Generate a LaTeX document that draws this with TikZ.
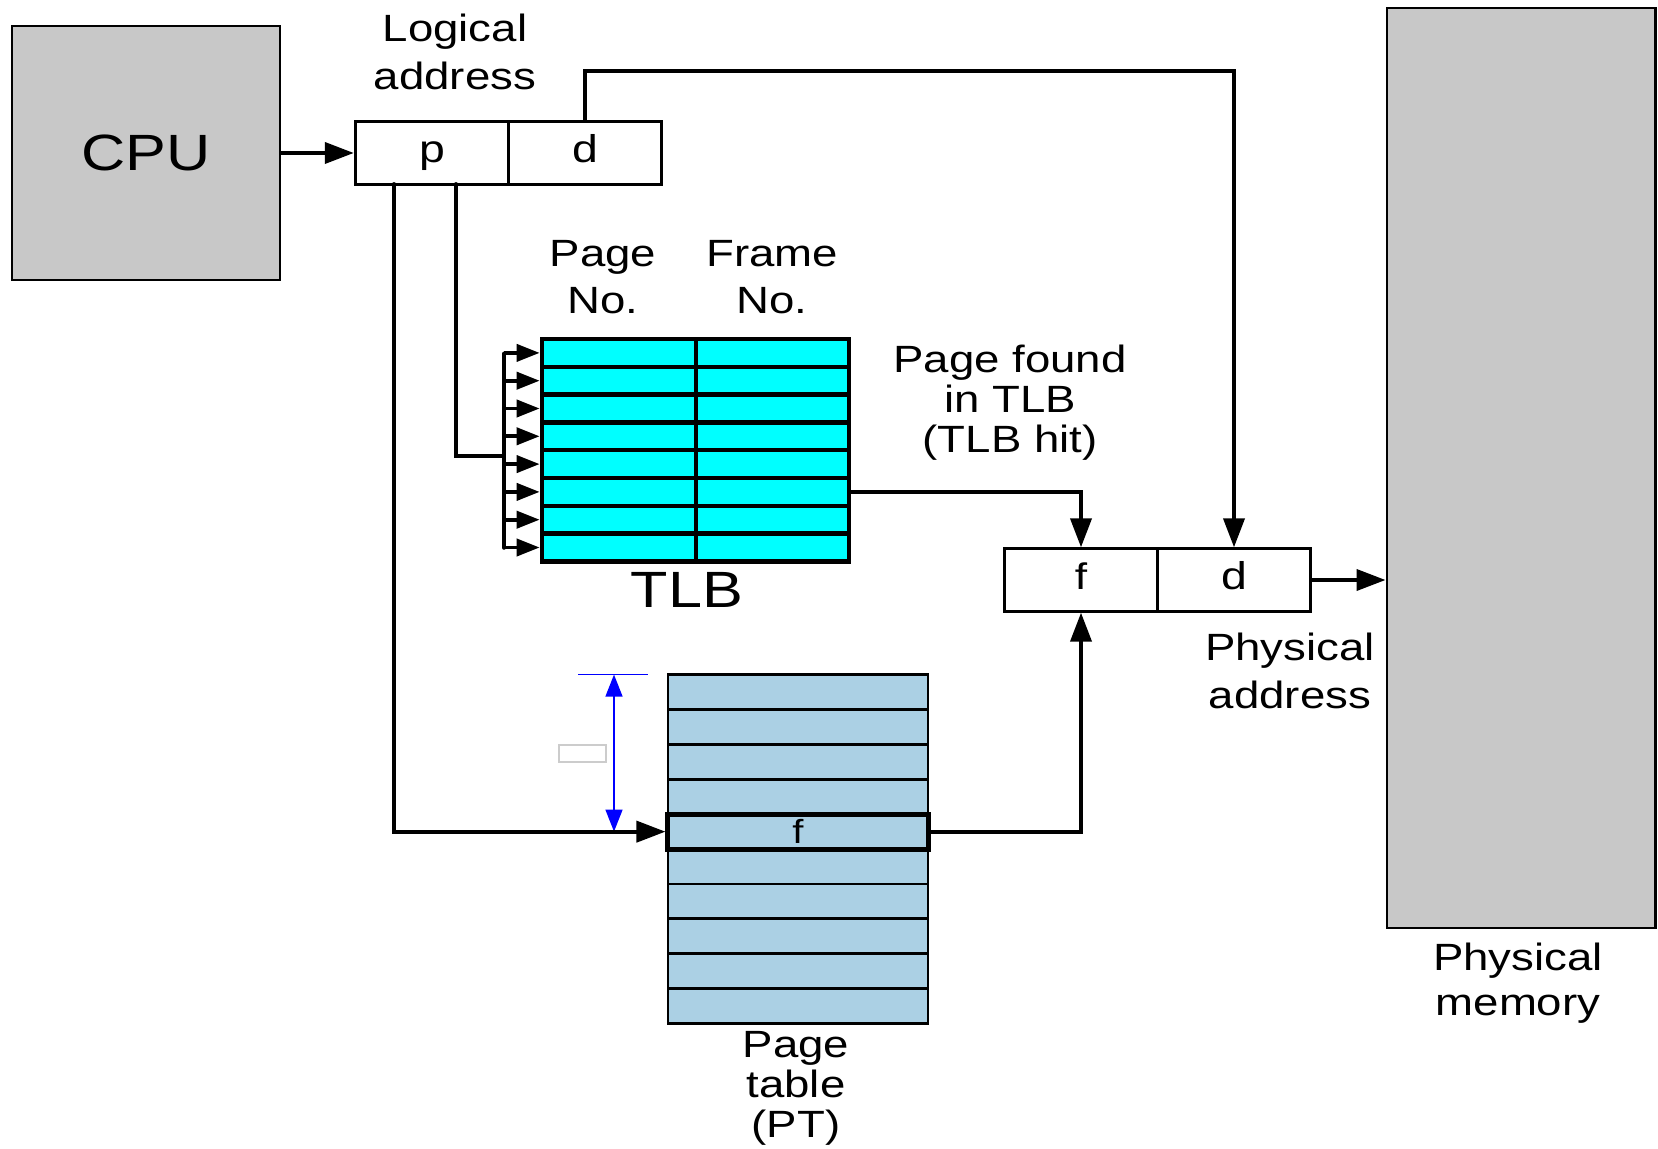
\documentclass[tikz,border=0pt]{standalone}
\usepackage{fontspec}
\setmainfont[FakeStretch=1.2]{Liberation Sans}
\usetikzlibrary{arrows.meta, positioning, calc}

\definecolor{boxgray}{RGB}{200,200,200}
\definecolor{tlbcyan}{RGB}{0,255,255}
\definecolor{ptblue}{RGB}{171,208,228}

\begin{document}
\begin{tikzpicture}[x=0.01cm, y=-0.01cm,
    lbl/.style={font=\fontsize{10.8}{13.5}\selectfont, align=center, inner sep=0pt},
    addrcell/.style={rectangle, draw=black, line width=0.8pt, fill=white,
          minimum width=1.535cm, minimum height=0.625cm, inner sep=0pt,
          text height=0.72em, text depth=0.2em,
          font=\fontsize{11}{13}\selectfont},
    tlbcell/.style={rectangle, draw=black, line width=1.3pt, fill=tlbcyan,
          minimum height=0.278cm, inner sep=0pt},
    ptcell/.style={rectangle, draw=black, line width=0.8pt, fill=ptblue,
          minimum width=2.6cm, minimum height=0.349cm, inner sep=0pt,
          font=\fontsize{9.5}{10}\selectfont},
    wire/.style={line width=1.1pt, line cap=round},
    arr/.style={wire, -{Triangle[length=0.29cm, width=0.21cm]}},
    busarr/.style={line width=1.1pt, -{Triangle[length=0.23cm, width=0.17cm]}},
    dimarr/.style={blue, line width=0.4pt, -{Triangle[length=0.22cm, width=0.17cm]}}]

    \useasboundingbox (0,0) rectangle (1658,1149);

    % CPU and memory
    \node[rectangle, draw=black, line width=0.8pt, fill=boxgray,
          minimum width=2.68cm, minimum height=2.54cm,
          font=\fontsize{14.5}{16}\selectfont](cpu) at (146,153){CPU};
    \node[rectangle, draw=black, line width=0.8pt, fill=boxgray,
          minimum width=2.68cm, minimum height=9.195cm](mem) at (1521,468){};
    \node[lbl, font=\fontsize{10.8}{12.9}\selectfont](memlbl) at (1518,983)
         {Physical\\memory};

    % logical address
    \node[addrcell](lp) at (432,153){p};
    \node[addrcell](ld) at (585,153){d};
    \node[lbl](lalbl) at (455,52){Logical\\address};

    % physical address
    \node[addrcell, font=\fontsize{10.5}{12}\selectfont](pf) at (1081,580){f};
    \node[addrcell](pd) at (1234,580){d};
    \node[lbl, font=\fontsize{10.8}{13.8}\selectfont](palbl) at (1290,671){Physical\\address};

    % TLB
    \foreach \r in {0,...,7}{
      \node[tlbcell, minimum width=1.54cm](tp\r) at (619,{339+27.8*(\r+0.5)}){};
      \node[tlbcell, minimum width=1.53cm](tf\r) at (772.5,{339+27.8*(\r+0.5)}){};
    }
    \node[lbl](pnlbl) at (603,277){Page\\No.};
    \node[lbl](fnlbl) at (772,277){Frame\\No.};
    \node[lbl, font=\fontsize{14.5}{16}\selectfont](tlblbl) at (687,590){TLB};
    \node[lbl, font=\fontsize{10.8}{11.4}\selectfont](hitlbl) at (1010,403)
         {Page found\\in TLB\\(TLB hit)};

    % page table
    \foreach \r in {0,...,9}{
      \node[ptcell](pt\r) at (798,{674.6+34.9*(\r+0.5)}){};
    }
    \node[ptcell, line width=1.4pt](ptf) at (pt4){f};
    \node[lbl, font=\fontsize{10.8}{11.4}\selectfont](ptlbl) at (796,1088)
         {Page\\table\\(PT)};

    % dimension mark
    \coordinate (dimtop) at (614,674.6);
    \coordinate (dimbot) at (614,831.6);
    \draw[blue, line width=0.4pt] (578,674.6) -- (648,674.6);
    \draw[blue!60!black, line width=0.8pt] (578,831.6) -- (648,831.6);
    \draw[dimarr] ($(dimtop)!0.5!(dimbot)$) -- (dimtop);
    \draw[dimarr] ($(dimtop)!0.5!(dimbot)$) -- (dimbot);
    \node[rectangle, draw=black!20, line width=0.6pt, minimum width=0.47cm,
          minimum height=0.17cm, inner sep=0pt](dimbox) at (582.5,753.5){};

    % connectors
    \draw[arr] (cpu.east) -- (lp.west);
    \draw[arr] (ld.north) |- (1234,71) -- (pd.north);
    \coordinate (busjoin) at (504,456);
    \draw[wire] (456,184) |- (busjoin);
    \draw[wire, line width=1.3pt] (504,353.9) -- (504,547.5);
    \foreach \r in {0,...,7}{
      \draw[busarr] (504,{339+27.8*(\r+0.5)}) -- (tp\r.west);
    }
    \draw[arr] (394,184) |- (ptf.west);
    \draw[arr] (tf5.east) -| (pf.north);
    \draw[arr] (ptf.east) -| (pf.south);
    \draw[arr] (pd.east) -- (mem.west |- pd.east);
\end{tikzpicture}
\end{document}
